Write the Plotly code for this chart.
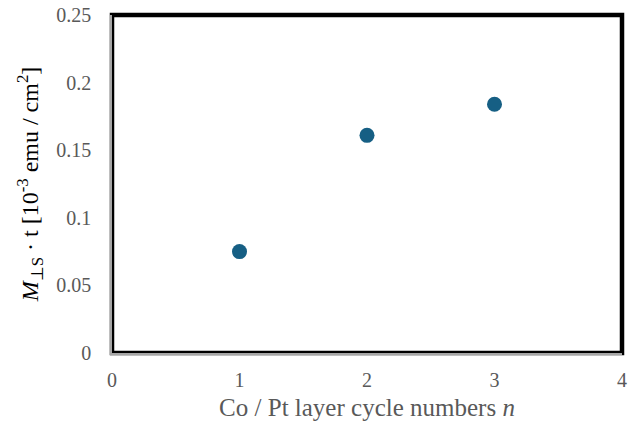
import plotly.graph_objects as go

cycles = [1, 2, 3]
moment = [0.075, 0.161, 0.184]

x_ticks = [0, 1, 2, 3, 4]
x_labels = ["0", "1", "2", "3", "4"]
y_ticks = [0, 0.05, 0.1, 0.15, 0.2, 0.25]
y_labels = ["0", "0.05", "0.1", "0.15", "0.2", "0.25"]

font = "Liberation Serif, Times New Roman, serif"

fig = go.Figure()
fig.add_trace(go.Scatter(
    x=cycles, y=moment, mode="markers",
    marker=dict(size=15, color="#165f84", line=dict(width=0)),
    showlegend=False, hoverinfo="skip"))

fig.update_layout(
    width=643, height=430,
    margin=dict(l=111.5, r=21, t=15, b=76.5, autoexpand=False),
    paper_bgcolor="white", plot_bgcolor="white",
    font=dict(family=font, color="#595959", size=20),
    shapes=[dict(type="rect", xref="paper", yref="paper", x0=0, x1=1, y0=0, y1=1,
                 line=dict(color="black", width=4.5), layer="below")],
)
fig.update_xaxes(range=[0, 4], tickvals=x_ticks, ticktext=x_labels,
                 showgrid=False, zeroline=False, showline=True,
                 linecolor="#a6a6a6", linewidth=1.5, ticks="",
                 automargin=False, ticklabelstandoff=8, ticklabeloverflow="allow",
                 tickfont=dict(family=font, size=20, color="#595959"),
                 title=dict(text="Co / Pt layer cycle numbers <i>n</i>",
                            font=dict(family=font, size=25, color="#595959"),
                            standoff=9))
fig.update_yaxes(range=[0, 0.25], tickvals=y_ticks, ticktext=y_labels,
                 showgrid=False, zeroline=False, showline=True,
                 linecolor="#a6a6a6", linewidth=1.5, ticks="",
                 automargin=False, ticklabelstandoff=15, ticklabeloverflow="allow",
                 tickfont=dict(family=font, size=20, color="#595959"),
                 title=dict(text="<i>M</i><sub>⊥S</sub> · t [10<sup>-3</sup> emu / cm<sup>2</sup>]",
                            font=dict(family=font, size=24, color="black"),
                            standoff=11))

fig.write_html("out.html",
               config={"displayModeBar": False},
               post_script="document.body.style.margin='0';document.body.style.overflow='hidden';")
